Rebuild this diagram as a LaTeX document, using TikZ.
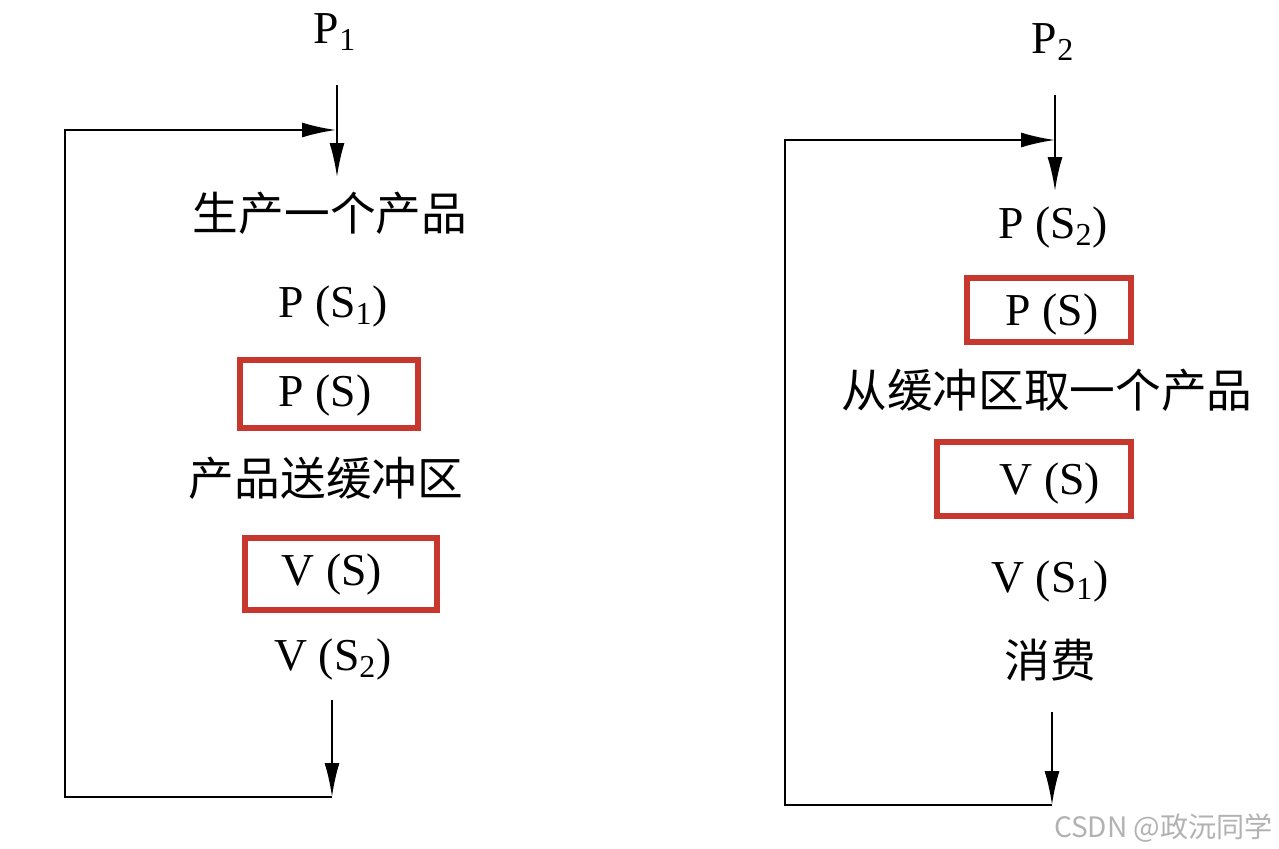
\documentclass[tikz,border=0pt]{standalone}
\usepackage{fontspec}
\setmainfont{Liberation Serif}
\newfontfamily\cjk{Noto Sans CJK SC}
\usetikzlibrary{arrows.meta, positioning}
\definecolor{boxred}{RGB}{200,55,45}

\begin{document}
\begin{tikzpicture}[
    x=0.02cm, y=-0.02cm,
    >={Latex[length=6.8mm, width=3mm]},
    line width=1.2pt,
    op/.style={font=\fontsize{26}{30}\selectfont, inner sep=0pt},
    act/.style={font=\cjk\fontsize{26}{30}\selectfont, inner sep=0pt},
    redbox/.style={draw=boxred, line width=3.4pt, inner sep=0pt}
]
\useasboundingbox (0,0) rectangle (1279,849);

% producer P1
\node[op] (p1) at (335,32) {P\textsubscript{1}};
\node[act] (make) at (330,213) {生产一个产品};
\node[op] (ps1) at (333,307) {P (S\textsubscript{1})};
\node[redbox, minimum width=3.56cm, minimum height=1.36cm] (lpbox) at (329,394) {};
\node[op] (lps) at (325,396) {P (S)};
\node[act] (send) at (326,478) {产品送缓冲区};
\node[redbox, minimum width=3.84cm, minimum height=1.44cm] (lvbox) at (341,574) {};
\node[op] (lvs) at (332,575) {V (S)};
\node[op] (vs2) at (333,660) {V (S\textsubscript{2})};

\coordinate (lin) at (337,85);
\coordinate (ltop) at (337,177);
\coordinate (ljoin) at (336,130);
\coordinate (lout) at (332,700);
\coordinate (lbot) at (332,797);
\coordinate (lleft) at (65,797);

\draw[->] (lin) -- (ltop);
\draw[->] (lout) -- (lbot);
\draw[->] (lbot) -- (lleft) |- (ljoin);

% consumer P2
\node[op] (p2) at (1053,42) {P\textsubscript{2}};
\node[op] (ps2) at (1053,228) {P (S\textsubscript{2})};
\node[redbox, minimum width=3.28cm, minimum height=1.28cm] (rpbox) at (1049,310) {};
\node[op] (rps) at (1052,315) {P (S)};
\node[act] (take) at (1047,390) {从缓冲区取一个产品};
\node[redbox, minimum width=3.88cm, minimum height=1.48cm] (rvbox) at (1034,479) {};
\node[op] (rvs) at (1050,484) {V (S)};
\node[op] (vs1) at (1050,582) {V (S\textsubscript{1})};
\node[act] (use) at (1050,660) {消费};

\coordinate (rin) at (1055,95);
\coordinate (rtop) at (1055,191);
\coordinate (rjoin) at (1055,140);
\coordinate (rout) at (1052,712);
\coordinate (rbot) at (1052,805);
\coordinate (rleft) at (785,805);

\draw[->] (rin) -- (rtop);
\draw[->] (rout) -- (rbot);
\draw[->] (rbot) -- (rleft) |- (rjoin);

% watermark
\node[font=\cjk\fontsize{16}{18}\selectfont, text=gray!60, anchor=east, inner sep=0pt] (mark) at (1274,828) {CSDN @政沅同学};
\end{tikzpicture}
\end{document}
